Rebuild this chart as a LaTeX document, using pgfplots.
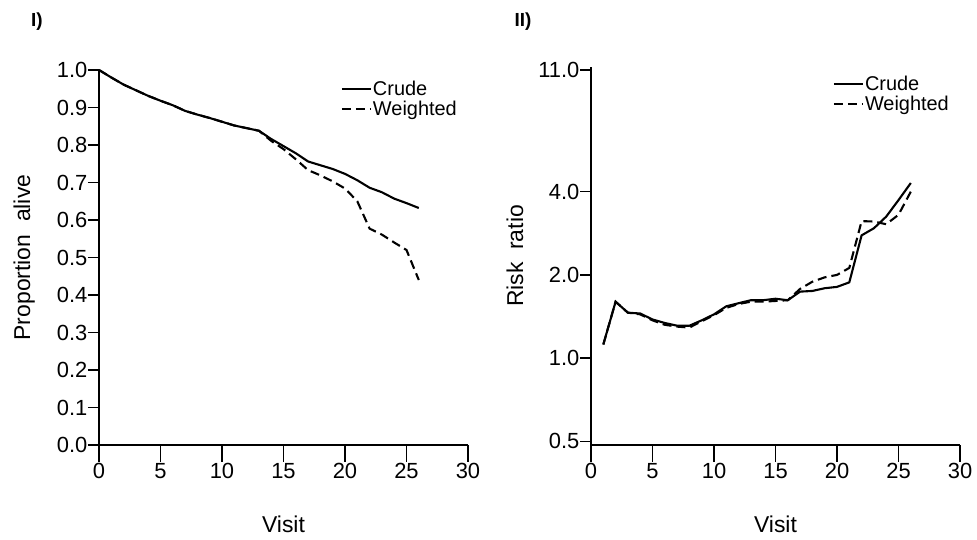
\documentclass[border=0pt]{standalone}
\usepackage{fontspec}
\setmainfont{Liberation Sans}
\usepackage{pgfplots}
\pgfplotsset{compat=1.18}
\begin{document}
\begin{tikzpicture}
\path[use as bounding box] (0bp,0bp) rectangle (977bp,540bp);
\pgfplotsset{
  mystyle/.style={
    scale only axis, width=369bp,
    axis x line*=bottom, axis y line*=left,
    axis line style={line width=1.6bp, -},
    tick style={line width=1.6bp, black},
    tick align=outside,
    major tick length=11bp,
    xtick style={/pgfplots/major tick length=17bp},
    xmin=0, xmax=30, xtick={0,5,...,30},
    xticklabels={0,5,10,15,20,25,30},
    ticklabel style={font=\fontsize{22}{26}\selectfont},
    xticklabel style={yshift=-4bp},
    yticklabel style={inner xsep=0.5bp},
    xlabel={Visit},
    every axis x label/.style={at={(axis description cs:0.5,-0.211)}, anchor=center, font=\fontsize{23}{27}\selectfont},
    legend style={draw=none, fill=none, anchor=north west, font=\fontsize{20}{24}\selectfont,
      inner sep=0pt, row sep=1bp, nodes={inner xsep=1bp, inner ysep=1.5bp}},
    legend cell align=left,
    legend image code/.code={\draw[##1] (0bp,0bp) -- (29bp,0bp);},
    clip=false,
  },
  crude/.style={black, solid, no markers, line width=2.1bp},
  wdash/.style={black, no markers, line width=2.1bp, dash pattern=on 9bp off 5bp},
}
\begin{axis}[mystyle, at={(99bp,95bp)}, anchor=south west, height=375bp,
  ymin=0, ymax=1, ytick={0,0.1,...,1.0},
  yticklabels={0.0,0.1,0.2,0.3,0.4,0.5,0.6,0.7,0.8,0.9,1.0},
  ylabel={Proportion\ \ alive},
  every axis y label/.style={at={(axis description cs:-0.203,0.5)}, rotate=90, anchor=center, font=\fontsize{23}{27}\selectfont},
  legend style={at={(axis description cs:0.655,0.975)}},
]
\addplot[crude] coordinates {(0,1.000) (1,0.980) (2,0.961) (3,0.946) (4,0.931) (5,0.918) (6,0.906) (7,0.891) (8,0.881) (9,0.872) (10,0.862) (11,0.852) (12,0.845) (13,0.838) (14,0.816) (15,0.797) (16,0.778) (17,0.756) (18,0.746) (19,0.736) (20,0.723) (21,0.706) (22,0.686) (23,0.674) (24,0.657) (25,0.645) (26,0.632)};
\addlegendentry{Crude}
\addplot[wdash] coordinates {(0,1.000) (1,0.980) (2,0.961) (3,0.946) (4,0.931) (5,0.918) (6,0.906) (7,0.891) (8,0.881) (9,0.872) (10,0.862) (11,0.852) (12,0.845) (13,0.838) (14,0.811) (15,0.789) (16,0.762) (17,0.733) (18,0.719) (19,0.703) (20,0.684) (21,0.650) (22,0.577) (23,0.561) (24,0.540) (25,0.520) (26,0.440)};
\addlegendentry{Weighted}
\end{axis}
\begin{axis}[mystyle, at={(591bp,95bp)}, anchor=south west, height=378bp,
  ymode=log, ymin=0.485, ymax=11.3, ytick={0.5,1,2,4,11},
  yticklabels={0.5,1.0,2.0,4.0,11.0},
  ylabel={Risk\ \ ratio},
  every axis y label/.style={at={(axis description cs:-0.206,0.5)}, rotate=90, anchor=center, font=\fontsize{23}{27}\selectfont},
  legend style={at={(axis description cs:0.655,0.98)}},
]
\addplot[crude] coordinates {(1,1.12) (2,1.60) (3,1.46) (4,1.45) (5,1.38) (6,1.34) (7,1.31) (8,1.31) (9,1.37) (10,1.44) (11,1.54) (12,1.58) (13,1.62) (14,1.62) (15,1.64) (16,1.62) (17,1.74) (18,1.75) (19,1.79) (20,1.81) (21,1.88) (22,2.78) (23,2.95) (24,3.25) (25,3.73) (26,4.30)};
\addlegendentry{Crude}
\addplot[wdash] coordinates {(1,1.12) (2,1.60) (3,1.46) (4,1.44) (5,1.37) (6,1.32) (7,1.30) (8,1.29) (9,1.36) (10,1.43) (11,1.52) (12,1.57) (13,1.60) (14,1.60) (15,1.61) (16,1.62) (17,1.78) (18,1.89) (19,1.96) (20,2.00) (21,2.12) (22,3.13) (23,3.12) (24,3.05) (25,3.30) (26,4.00)};
\addlegendentry{Weighted}
\end{axis}
\node[font=\bfseries\fontsize{19}{22}\selectfont] at (37bp,518bp) {I)};
\node[font=\bfseries\fontsize{19}{22}\selectfont] at (523bp,518bp) {II)};
\end{tikzpicture}
\end{document}
